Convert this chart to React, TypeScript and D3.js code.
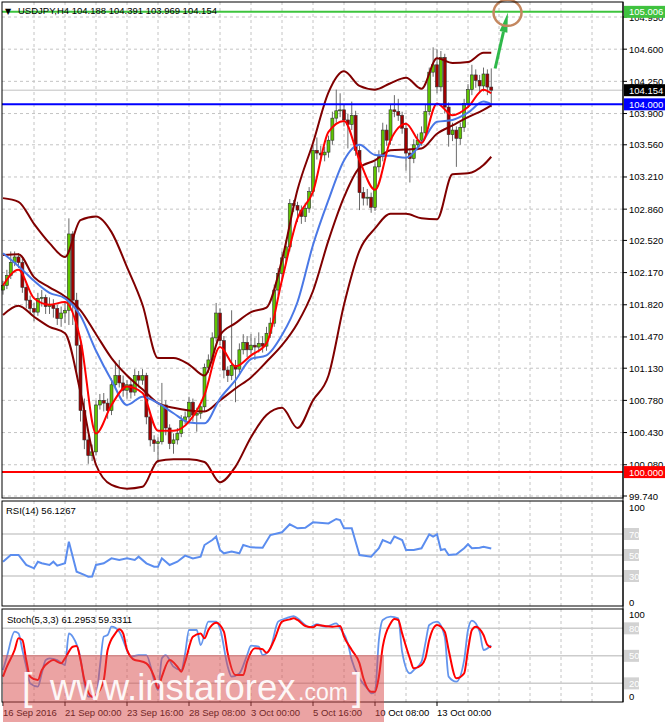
import * as d3 from "d3";

// USDJPY H4, 16 Sep 2016 08:00 onwards (bar index = 4-hour bars)
const firstOpen = 101.98;
const closes = [
  102.03, 102.14, 102.28, 102.34, 102.28, 102.01, 101.87, 101.78, 101.74, 101.89,
  101.9, 101.8, 101.82, 101.78, 101.67, 101.73, 101.76, 102.59, 101.87, 101.38,
  100.67, 100.35, 100.18, 100.22, 100.73, 100.78, 100.75, 100.67, 100.95, 101.05,
  100.97, 100.89, 100.95, 100.87, 101.05, 101.0, 101.05, 100.6, 100.35, 100.31,
  100.33, 100.73, 100.48, 100.31, 100.35, 100.42, 100.56, 100.6, 100.76, 100.62,
  100.64, 100.71, 101.14, 101.22, 101.46, 101.73, 101.43, 101.11, 101.05, 101.16,
  101.12, 101.33, 101.41, 101.33, 101.38, 101.36, 101.4, 101.37, 101.51, 101.62,
  101.98, 102.16, 102.33, 102.45, 102.92, 102.9, 102.85, 102.78, 102.87, 103.05,
  103.5, 103.47, 103.45, 103.48, 103.61, 103.85, 103.93, 103.94, 103.83, 103.78,
  103.88, 103.5, 103.04, 102.98, 102.99, 102.88, 103.32, 103.43, 103.72, 103.61,
  103.94, 103.92, 103.88, 103.74, 103.47, 103.41, 103.56, 103.61, 103.69, 103.92,
  104.35, 104.43, 104.19, 104.51, 103.97, 103.67, 103.72, 103.63, 103.75, 104.01,
  104.16, 104.32, 104.26, 104.2, 104.33, 104.188, 104.154,
];
const highs = [
  102.08, 102.2, 102.4, 102.4, 102.38, 102.32, 102.05, 101.92, 101.84, 101.95,
  101.98, 101.93, 101.9, 101.88, 101.82, 101.8, 101.85, 102.76, 102.62, 101.95,
  101.45, 100.8, 100.4, 100.3, 100.78, 100.85, 100.86, 100.8, 101.02, 101.2,
  101.22, 101.05, 101.0, 101.02, 101.12, 101.1, 101.12, 101.08, 100.65, 100.4,
  100.38, 100.97, 100.78, 100.52, 100.42, 100.48, 100.62, 100.66, 100.82, 100.8,
  100.7, 100.76, 101.18, 101.28, 101.52, 101.84, 101.78, 101.48, 101.15, 101.76,
  101.22, 101.4, 101.5, 101.48, 101.5, 101.46, 101.52, 101.48, 101.58, 101.68,
  102.04, 102.22, 102.4, 102.52, 102.97, 102.96, 102.94, 102.9, 102.93, 103.1,
  103.56, 103.64, 103.55, 103.54, 103.66, 103.92, 104.16, 104.12, 104.0, 103.9,
  104.03, 103.93, 103.55, 103.1, 103.08, 103.04, 103.38, 103.5, 103.8, 103.78,
  104.0, 104.1, 104.06, 103.92, 103.8, 103.52, 103.62, 103.68, 103.76, 104.0,
  104.4, 104.62, 104.6, 104.58, 104.55, 104.02, 103.8, 103.76, 103.8, 104.06,
  104.22, 104.43, 104.38, 104.32, 104.4, 104.38, 104.391,
];
const lows = [
  101.93, 101.99, 102.1, 102.24, 102.22, 101.95, 101.78, 101.72, 101.64, 101.7,
  101.8, 101.72, 101.72, 101.68, 101.6, 101.58, 101.62, 101.6, 101.6, 101.05,
  100.55, 100.25, 100.09, 100.12, 100.18, 100.68, 100.66, 100.58, 100.62, 100.9,
  100.92, 100.82, 100.8, 100.8, 100.83, 100.92, 100.95, 100.52, 100.28, 100.22,
  100.1, 100.3, 100.4, 100.25, 100.2, 100.3, 100.38, 100.52, 100.55, 100.55,
  100.44, 100.58, 100.66, 101.08, 101.18, 101.42, 101.38, 101.02, 100.98, 101.0,
  100.76, 101.08, 101.28, 101.25, 101.28, 101.22, 101.3, 101.3, 101.32, 101.46,
  101.58, 101.92, 102.1, 102.28, 102.4, 102.83, 102.72, 102.7, 102.72, 102.82,
  103.0, 103.4, 103.38, 103.38, 103.42, 103.56, 103.8, 103.86, 103.76, 103.52,
  103.72, 103.44, 102.85, 102.9, 102.9, 102.82, 102.84, 103.26, 103.38, 103.55,
  103.56, 103.86, 103.82, 103.68, 103.28, 103.15, 103.36, 103.5, 103.55, 103.64,
  103.88, 104.3, 104.12, 104.14, 103.9, 103.54, 103.6, 103.32, 103.56, 103.7,
  103.96, 104.1, 104.18, 104.12, 104.14, 104.1, 103.969,
];

// indicator lines read every 4 bars
const knotBars = [
  0, 4, 8, 12, 16, 20, 24, 28, 32, 36, 40, 44, 48, 52, 56, 60, 64, 68, 72, 76,
  80, 84, 88, 92, 96, 100, 104, 108, 112, 116, 120, 124, 126,
];
const bbUpper = [
  102.98, 102.94, 102.7, 102.49, 102.34, 102.74, 102.78, 102.61, 102.23, 101.82,
  101.24, 101.24, 101.17, 101.05, 101.49, 101.62, 101.74, 101.79, 102.31, 103.07,
  103.58, 104.13, 104.36, 104.2, 104.16, 104.23, 104.29, 104.17, 104.5, 104.45,
  104.46, 104.56, 104.56,
];
const bbMiddle = [
  102.36, 102.37, 102.12, 102.01, 101.91, 101.76, 101.5, 101.24, 101.05, 100.9,
  100.75, 100.7, 100.67, 100.66, 100.78, 100.91, 101.03, 101.2, 101.38, 101.62,
  101.97, 102.52, 102.99, 103.31, 103.39, 103.5, 103.51, 103.52, 103.68, 103.77,
  103.86, 103.94, 103.99,
];
const bbLower = [
  101.71, 101.81, 101.69, 101.58, 101.51, 100.87, 100.08, 99.86, 99.82, 99.84,
  100.12, 100.14, 100.14, 100.11, 99.89, 100.06, 100.38, 100.62, 100.7, 100.48,
  100.78, 101.05, 101.82, 102.41, 102.65, 102.81, 102.81, 102.76, 102.75, 103.24,
  103.25, 103.34, 103.43,
];
const maSlow = [
  102.38, 102.24, 102.08, 101.95, 101.89, 101.7, 101.32, 101.0, 100.73, 100.82,
  100.75, 100.64, 100.54, 100.53, 100.8, 101.0, 101.23, 101.27, 101.49, 101.85,
  102.47, 102.96, 103.39, 103.56, 103.45, 103.44, 103.42, 103.58, 103.81, 103.83,
  103.91, 104.03, 104.0,
];
const maFast = [
  102.03, 102.2, 101.89, 101.82, 101.85, 101.44, 100.42, 100.73, 100.93, 100.86,
  100.45, 100.45, 100.55, 100.84, 101.36, 101.15, 101.27, 101.4, 102.09, 102.76,
  103.05, 103.7, 103.82, 103.39, 103.07, 103.61, 103.79, 103.58, 104.01, 103.88,
  103.97, 104.16, 104.12,
];

// RSI(14): [bar, value]
const rsi: [number, number][] = [
  [0, 43.6], [2, 50], [4, 50], [6, 40.5], [8, 37.3], [9, 43.6], [10, 42.1], [12, 40.5],
  [13, 43.6], [14, 39.8], [16, 42.1], [17, 62.7], [19, 34.1], [21, 31], [22, 29.4], [23, 29.5],
  [24, 40.5], [26, 42.1], [28, 46.8], [30, 45.2], [32, 46.8], [34, 45.2], [35, 48.4], [37, 42.1],
  [39, 38.9], [40, 38.9], [41, 46.8], [43, 40.5], [45, 43.6], [47, 49.4], [49, 46.8], [51, 48.4],
  [52, 59.5], [54, 64.3], [55, 67.5], [56, 54.8], [57, 51.6], [59, 53.2], [61, 51.6], [62, 59.5],
  [64, 57.3], [67, 57], [69, 69], [72, 71.6], [74, 79.2], [76, 75.4], [78, 76], [80, 81.1],
  [84, 80.1], [86, 84.3], [87, 83.3], [88, 75.4], [90, 75.4], [91, 62.7], [92, 50], [95, 48.4],
  [97, 56.4], [98, 64.3], [100, 61.1], [101, 67.5], [103, 64.3], [104, 54.8], [106, 54.8], [108, 56.4],
  [110, 69.7], [111, 67.5], [112, 69.7], [113, 54.8], [114, 55.7], [115, 50], [117, 50.6], [119, 56.4],
  [120, 60.2], [121, 56.4], [123, 57], [124, 57.9], [126, 56.1267],
];

// Stochastic(5,3,3): main and signal, [bar, value]
const stochMain: [number, number][] = [
  [0, 34.5], [1, 49.1], [3, 76.4], [4, 74.5], [5, 56.4], [6, 38.2], [7, 20], [9, 16.4],
  [10, 30.9], [11, 45.4], [12, 47.3], [14, 45.4], [16, 40], [17, 74.5], [18, 70.9], [20, 47.3],
  [21, 20], [22, 5.5], [24, 5.5], [25, 38.2], [26, 70.9], [27, 72.7], [28, 81.8], [30, 76.4],
  [32, 56.4], [33, 49.1], [35, 50.9], [37, 50.9], [39, 23.6], [40, 12.7], [41, 47.3], [42, 50.9],
  [44, 38.2], [46, 34.5], [47, 52.7], [48, 78.2], [50, 78.2], [51, 61.8], [53, 87.3], [55, 87.3],
  [56, 80], [58, 38.2], [59, 27.3], [61, 30.9], [63, 50.9], [64, 61.1], [66, 60], [67, 50.9],
  [69, 58.2], [71, 87.3], [73, 90.9], [75, 93.4], [76, 90.9], [78, 83.6], [79, 81.1], [81, 84.7],
  [83, 81.8], [84, 82.5], [86, 85.4], [87, 80], [89, 63.6], [90, 45.4], [92, 25.5], [94, 14.5],
  [95, 9.1], [96, 10.9], [97, 67.3], [98, 89.1], [100, 92.7], [102, 90.9], [103, 54.5], [105, 30.9],
  [106, 34.5], [108, 43.6], [109, 63.6], [110, 83.6], [112, 87.3], [114, 70.9], [115, 27.3], [117, 21.8],
  [119, 45.4], [120, 78.2], [121, 88.4], [123, 76.4], [124, 56.4], [126, 61.2953],
];
const stochSignal: [number, number][] = [
  [0, 27.3], [1, 38.2], [3, 56.4], [4, 69.1], [5, 67.3], [6, 45.4], [7, 27.3], [9, 23.6],
  [10, 34.5], [12, 43.6], [13, 45.4], [15, 41.8], [16, 47.3], [18, 60], [19, 60.7], [20, 45.4],
  [21, 23.6], [23, 5.5], [24, 7.3], [26, 23.6], [27, 56.4], [29, 74.5], [30, 78.9], [31, 74.5],
  [32, 56.4], [34, 45.4], [35, 44.7], [37, 41.8], [39, 27.3], [40, 14.5], [41, 27.3], [43, 45.4],
  [45, 38.2], [46, 32.7], [47, 43.6], [49, 70.9], [51, 74.5], [52, 69.1], [53, 78.2], [55, 86.2],
  [57, 76.4], [58, 52.7], [60, 29.1], [62, 29.1], [63, 43.6], [65, 58.2], [67, 57.1], [68, 53.4],
  [70, 67.3], [72, 87.3], [74, 89.8], [75, 90.9], [76, 89.1], [78, 82.5], [80, 81.1], [81, 83.6],
  [83, 82.5], [85, 81.8], [87, 82.5], [88, 70.9], [90, 56.4], [92, 41.8], [93, 25.5], [95, 10.9],
  [96, 10.9], [97, 27.3], [98, 60], [100, 85.4], [101, 90.2], [102, 89.1], [103, 74.5], [105, 47.3],
  [106, 36.4], [108, 40], [109, 47.3], [110, 67.3], [112, 83.6], [114, 76.4], [115, 56.4], [117, 25.5],
  [119, 30.9], [120, 56.4], [121, 78.2], [122, 81.8], [124, 72.7], [125, 62], [126, 59.3311],
];

const priceTicks = [
  104.95, 104.6, 104.25, 103.9, 103.56, 103.21, 102.86, 102.52, 102.17, 101.82,
  101.47, 101.13, 100.78, 100.43, 100.08, 99.74,
];
const dateBars = [0, 16, 32, 48, 64, 80, 96, 112];
const dateLabels = [
  "16 Sep 2016", "21 Sep 00:00", "23 Sep 16:00", "28 Sep 08:00",
  "3 Oct 00:00", "5 Oct 16:00", "10 Oct 08:00", "13 Oct 00:00",
];
const rsiLevels = [70, 50, 30];
const stochLevels = [80, 50, 20];

const targetLevel = 105.006;
const supportLevel = 104.0;
const floorLevel = 100.0;

const W = 665;
const H = 722;
const FONT = "'Liberation Sans', Arial, sans-serif";
const AXIS = 623;

const x = d3.scaleLinear().domain([0, 160]).range([3, AXIS]);
const y = d3.scaleLinear().domain([99.74, 104.95]).range([496, 17]);
const yRsi = d3.scaleLinear().domain([0, 100]).range([607.5, 502.5]);
const ySto = d3.scaleLinear().domain([0, 100]).range([701.7, 610]);

const panels = [
  { top: 2, bottom: 498 },
  { top: 501, bottom: 606 },
  { top: 609, bottom: 702 },
];

function Tag({ yPos, text, bg, fg }: { yPos: number; text: string; bg: string; fg: string }) {
  return (
    <g>
      <rect x={AXIS + 1} y={yPos - 6} width={W - AXIS} height={12} fill={bg} />
      <text x={629} y={yPos + 3.5} fontSize={9.5} fill={fg} fontFamily={FONT}>
        {text}
      </text>
    </g>
  );
}

export default function App() {
  const opens = [firstOpen, ...closes.slice(0, -1)];
  const last = closes.length - 1;
  const f3 = d3.format(".3f");

  const knotLine = (vals: number[]) =>
    d3
      .line<number>()
      .x((_, k) => x(knotBars[k]))
      .y((v) => y(v))
      .curve(d3.curveMonotoneX)(vals) || "";

  const pairLine = (pts: [number, number][], sy: d3.ScaleLinear<number, number>, curve: d3.CurveFactory) =>
    d3
      .line<[number, number]>()
      .x((d) => x(d[0]))
      .y((d) => sy(d[1]))
      .curve(curve)(pts) || "";

  const gridBars = d3.range(8, 160, 8);

  const arrowTail = { bar: 127, price: 104.39 };
  const arrowTip = { bar: 130.3, price: 105.0 };
  const ax1 = x(arrowTail.bar);
  const ay1 = y(arrowTail.price);
  const ax2 = x(arrowTip.bar);
  const ay2 = y(arrowTip.price);
  const len = Math.hypot(ax2 - ax1, ay2 - ay1);
  const ux = (ax2 - ax1) / len;
  const uy = (ay2 - ay1) / len;
  const bx = ax2 - ux * 20;
  const by = ay2 - uy * 20;
  const head = `${ax2},${ay2} ${bx - uy * 4},${by + ux * 4} ${bx + uy * 4},${by - ux * 4}`;

  const title = `USDJPY,H4  ${f3(opens[last])} ${f3(highs[last])} ${f3(lows[last])} ${f3(closes[last])}`;

  return (
    <svg
      width={W}
      height={H}
      style={{ position: "absolute", left: 0, top: 0 }}
      fontFamily={FONT}
    >
      <rect width={W} height={H} fill="#ffffff" />

      {/* vertical grid in all panels */}
      {panels.map((p, pi) =>
        gridBars.map((b) => (
          <line
            key={`vg${pi}-${b}`}
            x1={x(b)}
            x2={x(b)}
            y1={p.top}
            y2={p.bottom}
            stroke="#c4c4c4"
            strokeDasharray="3,3"
          />
        ))
      )}

      {/* horizontal grid, main panel */}
      {priceTicks.map((t) => (
        <line
          key={`hg${t}`}
          x1={2}
          x2={AXIS}
          y1={y(t)}
          y2={y(t)}
          stroke="#c4c4c4"
          strokeDasharray="3,3"
        />
      ))}

      {/* current price line */}
      <line x1={2} x2={AXIS} y1={y(closes[last])} y2={y(closes[last])} stroke="#c0c0c0" />

      {/* candles */}
      {closes.map((c, i) => {
        const o = opens[i];
        const up = c >= o;
        const top = y(Math.max(o, c));
        const bot = y(Math.min(o, c));
        return (
          <g key={`c${i}`}>
            <line x1={x(i)} x2={x(i)} y1={y(highs[i])} y2={y(lows[i])} stroke="#6a6a6a" />
            <rect
              x={x(i) - 1.5}
              y={top}
              width={3}
              height={Math.max(1, bot - top)}
              fill={up ? "#5ec400" : "#a00000"}
              stroke="#303030"
              strokeWidth={0.6}
            />
          </g>
        );
      })}

      {/* Bollinger bands and moving averages */}
      <g fill="none" strokeWidth={2}>
        <path d={knotLine(bbUpper)} stroke="#800000" />
        <path d={knotLine(bbMiddle)} stroke="#800000" />
        <path d={knotLine(bbLower)} stroke="#800000" />
        <path d={knotLine(maSlow)} stroke="#4a78e6" />
        <path d={knotLine(maFast)} stroke="#ff0000" />
      </g>

      {/* horizontal levels */}
      <line x1={2} x2={AXIS} y1={y(targetLevel)} y2={y(targetLevel)} stroke="#3ec43e" strokeWidth={2} />
      <line x1={2} x2={AXIS} y1={y(supportLevel)} y2={y(supportLevel)} stroke="#0000ff" strokeWidth={2} />
      <line x1={2} x2={AXIS} y1={y(floorLevel)} y2={y(floorLevel)} stroke="#ff0000" strokeWidth={2} />

      {/* target annotation */}
      <line x1={ax1} y1={ay1} x2={bx} y2={by} stroke="#2fb84a" strokeWidth={3} />
      <polygon points={head} fill="#2fb84a" />
      <ellipse cx={x(130.2)} cy={y(targetLevel) + 1} rx={14} ry={13} fill="none" stroke="#c4875f" strokeWidth={2.5} />

      {/* title */}
      <text x={5} y={14} fontSize={8} fill="#000" fontFamily="'DejaVu Sans', sans-serif">
        ▼
      </text>
      <text x={18} y={14} fontSize={9.5} fill="#000">
        {title}
      </text>

      {/* RSI panel */}
      {rsiLevels.map((l) => (
        <line key={`rl${l}`} x1={2} x2={AXIS} y1={yRsi(l)} y2={yRsi(l)} stroke="#cccccc" strokeWidth={1.5} />
      ))}
      <path d={pairLine(rsi, yRsi, d3.curveLinear)} fill="none" stroke="#5b8def" strokeWidth={2} />
      <text x={6} y={514} fontSize={9.5} fill="#000">
        {`RSI(14) ${rsi[rsi.length - 1][1].toFixed(4)}`}
      </text>

      {/* Stochastic panel */}
      {stochLevels.map((l) => (
        <line key={`sl${l}`} x1={2} x2={AXIS} y1={ySto(l)} y2={ySto(l)} stroke="#cccccc" strokeWidth={1.5} />
      ))}
      <path d={pairLine(stochMain, ySto, d3.curveMonotoneX)} fill="none" stroke="#6495ed" strokeWidth={1.8} />
      <path d={pairLine(stochSignal, ySto, d3.curveMonotoneX)} fill="none" stroke="#ff0000" strokeWidth={2} />
      <text x={7} y={623} fontSize={9.5} fill="#000">
        {`Stoch(5,3,3) ${stochMain[stochMain.length - 1][1].toFixed(4)} ${stochSignal[stochSignal.length - 1][1].toFixed(4)}`}
      </text>

      {/* panel frames */}
      {panels.map((p, i) => (
        <rect key={`pf${i}`} x={2} y={p.top} width={AXIS - 2} height={p.bottom - p.top} fill="none" stroke="#000" />
      ))}
      <line x1={AXIS} x2={AXIS} y1={2} y2={702} stroke="#000" />

      {/* price axis */}
      {priceTicks.map((t) => (
        <g key={`pt${t}`}>
          <line x1={AXIS} x2={AXIS + 4} y1={y(t)} y2={y(t)} stroke="#000" />
          <text x={629} y={y(t) + 3.5} fontSize={9.5} fill="#000">
            {f3(t)}
          </text>
        </g>
      ))}
      <Tag yPos={y(targetLevel)} text={f3(targetLevel)} bg="#3fc23f" fg="#ffffff" />
      <Tag yPos={y(closes[last])} text={f3(closes[last])} bg="#000000" fg="#ffffff" />
      <Tag yPos={y(supportLevel)} text={f3(supportLevel)} bg="#0000ff" fg="#ffffff" />
      <Tag yPos={y(floorLevel)} text={f3(floorLevel)} bg="#ff0000" fg="#ffffff" />

      {/* RSI axis */}
      <text x={629} y={yRsi(100) + 8} fontSize={9.5} fill="#000">100</text>
      <text x={629} y={yRsi(0) - 2} fontSize={9.5} fill="#000">0</text>
      {rsiLevels.map((l) => (
        <g key={`ra${l}`}>
          <rect x={AXIS + 1} y={yRsi(l) - 6} width={15} height={12} fill="#d2d2d2" />
          <text x={629} y={yRsi(l) + 3.5} fontSize={9.5} fill="#ffffff">{l}</text>
        </g>
      ))}

      {/* Stochastic axis */}
      <text x={629} y={ySto(100) + 8} fontSize={9.5} fill="#000">100</text>
      <text x={629} y={ySto(0) - 2} fontSize={9.5} fill="#000">0</text>
      {stochLevels.map((l) => (
        <g key={`sa${l}`}>
          <rect x={AXIS + 1} y={ySto(l) - 6} width={15} height={12} fill="#d2d2d2" />
          <text x={629} y={ySto(l) + 3.5} fontSize={9.5} fill="#ffffff">{l}</text>
        </g>
      ))}

      {/* time axis */}
      {dateBars.map((b, i) => (
        <g key={`d${b}`}>
          <line x1={x(b)} x2={x(b)} y1={702} y2={706} stroke="#000" />
          <text x={x(b)} y={716} fontSize={9.5} fill="#000">
            {dateLabels[i]}
          </text>
        </g>
      ))}

      {/* watermark */}
      <rect x={3} y={655} width={381} height={67} fill="#d84848" opacity={0.5} />
      <g fill="#ffffff" opacity={0.92}>
        <text x={22} y={700} fontSize={38} fontWeight={300}>[</text>
        <text x={50} y={700} fontSize={36.5}>www.instaforex</text>
        <text x={298} y={700} fontSize={23}>.com</text>
        <text x={352} y={700} fontSize={38} fontWeight={300}>]</text>
      </g>
    </svg>
  );
}
